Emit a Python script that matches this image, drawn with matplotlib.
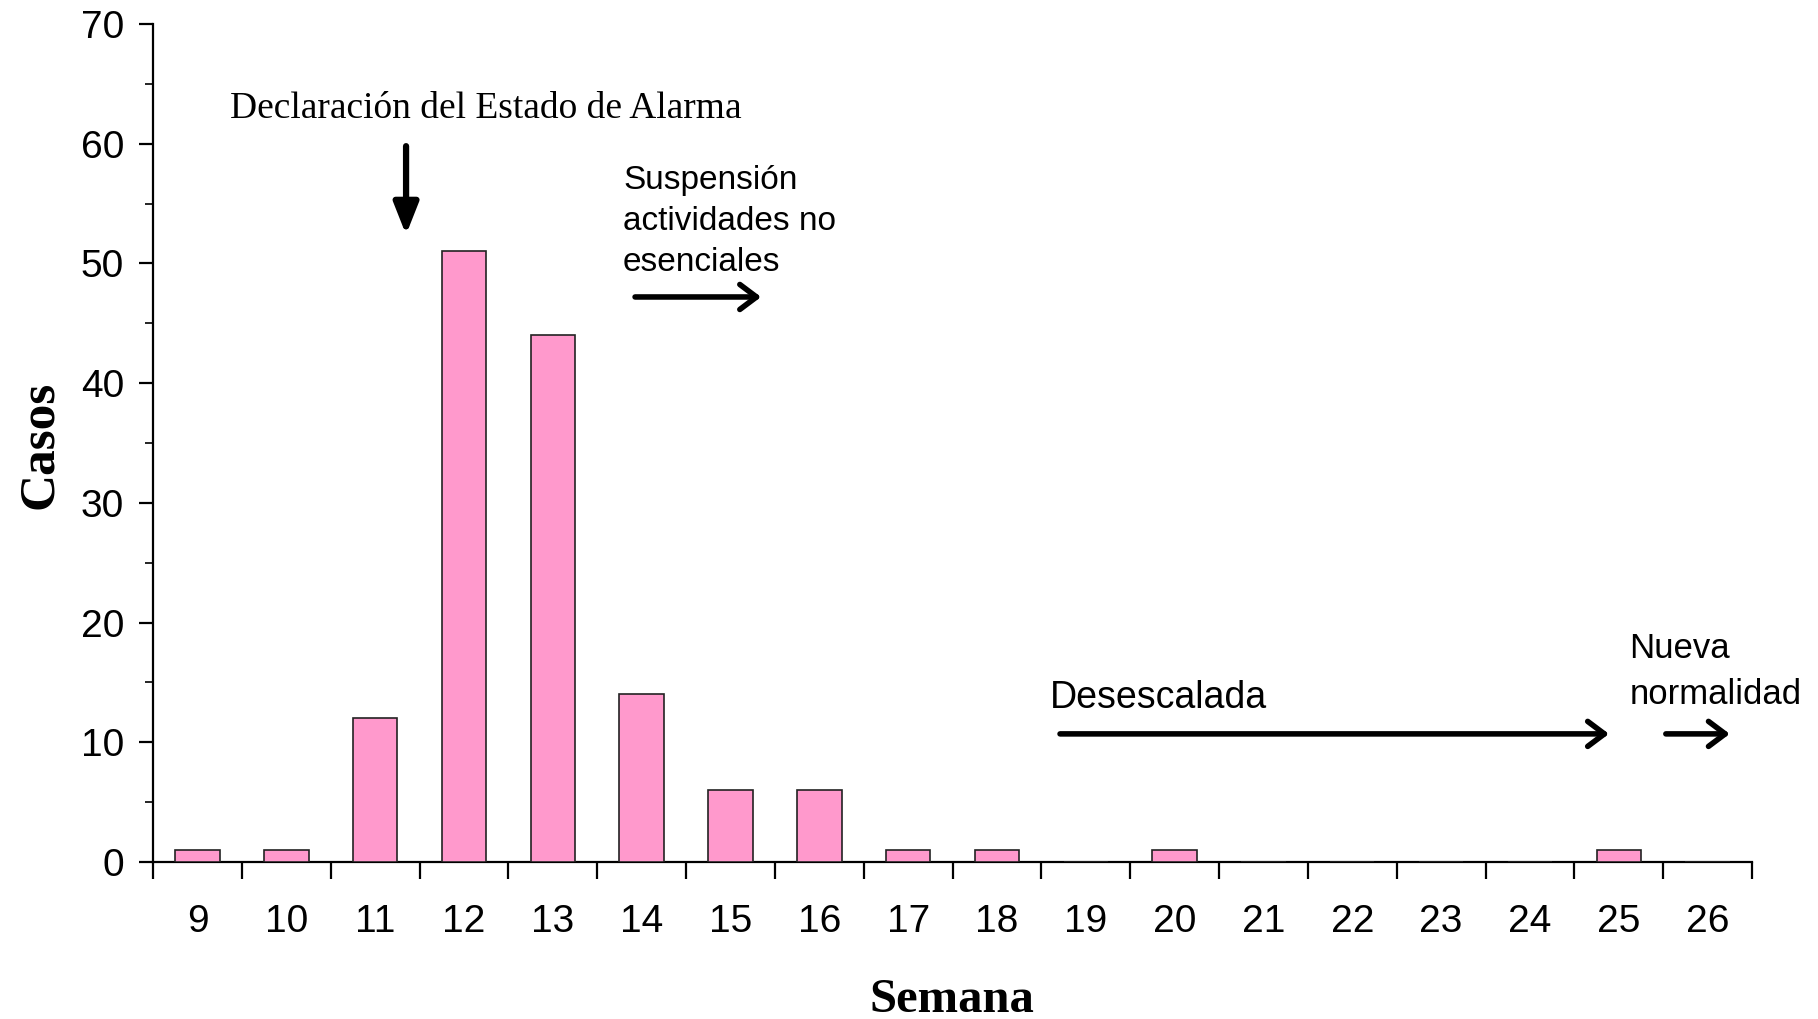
import matplotlib
matplotlib.use("Agg")
import matplotlib.pyplot as plt
from matplotlib.ticker import FixedLocator, NullFormatter, FixedFormatter

weeks = ["9", "10", "11", "12", "13", "14", "15", "16", "17", "18",
         "19", "20", "21", "22", "23", "24", "25", "26"]
cases = [1, 1, 12, 51, 44, 14, 6, 6, 1, 1, 0, 1, 0, 0, 0, 0, 1, 0]
y_ticks = [0, 10, 20, 30, 40, 50, 60, 70]

fig = plt.figure(figsize=(18.18, 10.19), dpi=100)
ax = fig.add_axes([0.0842, 0.1541, 0.8795, 0.8223])

x = list(range(len(weeks)))
ax.bar(x, cases, width=0.5, color="#FF99CC", edgecolor="#222222", linewidth=1.2, zorder=3)

ax.set_xlim(-0.5, len(weeks) - 0.5)
ax.set_ylim(0, 70)

for s in ["top", "right"]:
    ax.spines[s].set_visible(False)
for s in ["left", "bottom"]:
    ax.spines[s].set_linewidth(1.6)

# x: boundaries as major ticks (no labels), centers as minor (labels)
ax.xaxis.set_major_locator(FixedLocator([i - 0.5 for i in range(len(weeks) + 1)]))
ax.xaxis.set_major_formatter(NullFormatter())
ax.xaxis.set_minor_locator(FixedLocator(x))
ax.xaxis.set_minor_formatter(FixedFormatter(weeks))
ax.tick_params(axis="x", which="major", direction="out", length=12, width=1.6)
ax.tick_params(axis="x", which="minor", length=0, pad=30, labelsize=28)

ax.set_yticks(y_ticks)
ax.yaxis.set_minor_locator(FixedLocator([5, 15, 25, 35, 45, 55, 65]))
ax.tick_params(axis="y", which="major", direction="out", length=10, width=1.6, pad=11, labelsize=28)
ax.tick_params(axis="y", which="minor", direction="out", length=6, width=1.2)

for lab in ax.get_xticklabels(minor=True) + ax.get_yticklabels():
    lab.set_family(["Liberation Sans Narrow", "Liberation Sans", "DejaVu Sans"])

ax.set_ylabel("Casos", family=["Liberation Serif", "DejaVu Serif"], fontweight="bold", fontsize=37)
ax.yaxis.set_label_coords(-0.0566, 0.4976)
ax.set_xlabel("Semana", family=["Liberation Serif", "DejaVu Serif"], fontweight="bold", fontsize=35)
ax.xaxis.set_label_coords(0.4997, -0.139)

sans = ["Liberation Sans", "DejaVu Sans"]
open_head = dict(arrowstyle="->,head_width=0.9,head_length=1.2", lw=4, color="black",
                 shrinkA=0, shrinkB=0)

ax.text(0.367, 62.9, "Declaración del Estado de Alarma", family=["Liberation Serif", "DejaVu Serif"],
        fontsize=27, va="center", ha="left")
ax.annotate("", xy=(2.348, 52.4), xytext=(2.348, 59.8),
            arrowprops=dict(arrowstyle="-|>,head_width=0.75,head_length=1.9", lw=4.5, color="black",
                            shrinkA=0, shrinkB=0))

ax.text(4.79, 53.5, "Suspensión\nactividades no\nesenciales", family=sans, fontsize=24,
        va="center", ha="left", linespacing=1.4)
ax.annotate("", xy=(6.345, 47.2), xytext=(4.926, 47.2), arrowprops=open_head)

ax.text(9.598, 13.7, "Desescalada", family=sans, fontsize=27, va="center", ha="left")
ax.annotate("", xy=(15.89, 10.7), xytext=(9.71, 10.7), arrowprops=open_head)

ax.text(16.12, 15.9, "Nueva\nnormalidad", family=["Liberation Sans Narrow"] + sans, fontsize=25,
        va="center", ha="left", linespacing=1.49)
ax.annotate("", xy=(17.25, 10.7), xytext=(16.53, 10.7), arrowprops=open_head,
            annotation_clip=False)

fig.savefig("out.png", dpi=100)
